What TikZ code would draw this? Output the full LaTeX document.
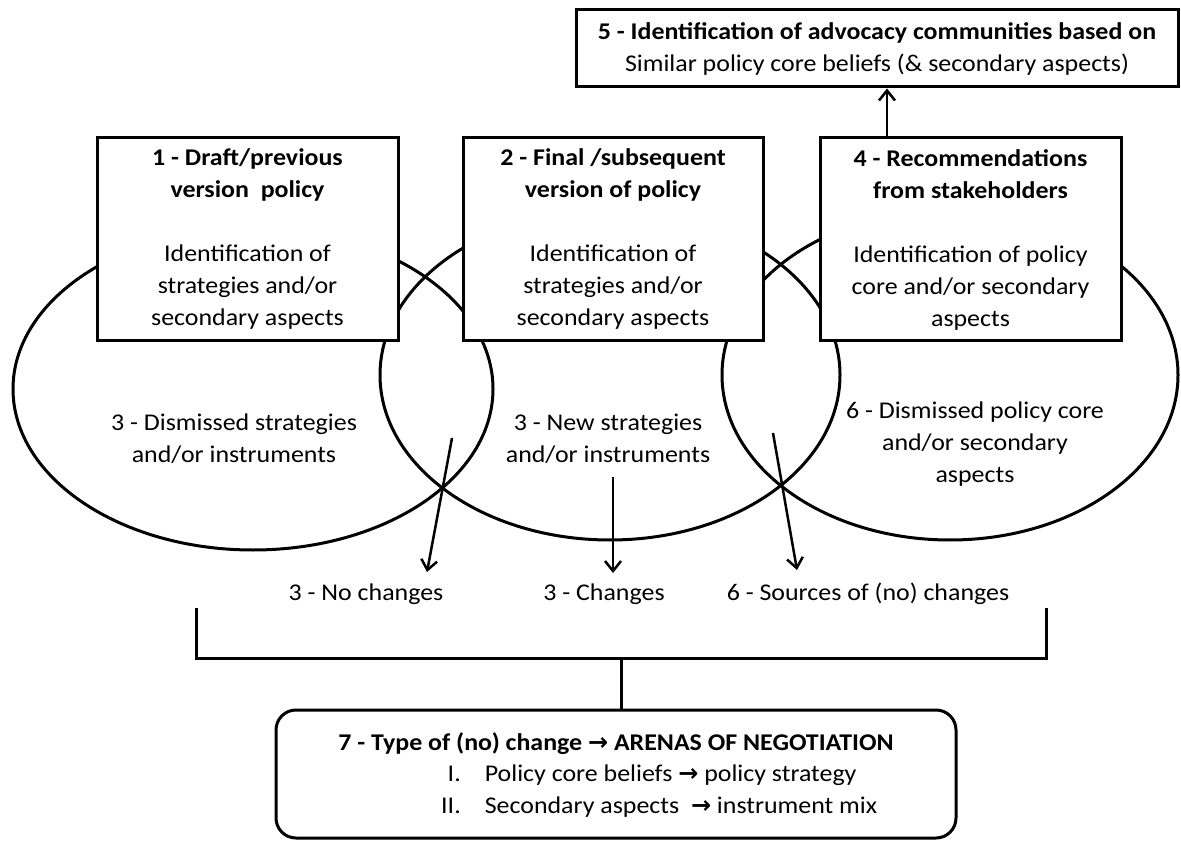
\documentclass[tikz,border=0pt]{standalone}
\usepackage{fontspec}
\setmainfont{Carlito}[FakeStretch=1.08]
\newfontfamily\arrowfont{DejaVu Sans}
\usetikzlibrary{arrows.meta,calc}
\begin{document}
\begin{tikzpicture}[x=1pt,y=-1pt,
  every node/.style={font=\fontsize{24}{32}\selectfont, inner sep=0pt},
  box/.style={draw, line width=3pt, fill=white, align=center},
  lbl/.style={align=center},
  arr/.style={line width=2.5pt, -{Straight Barb[length=10pt,width=16pt]}},
  ln/.style={line width=3pt}]
\useasboundingbox (0,0) rectangle (1181,842);
\fill[white] (0,0) rectangle (1181,842);
% ellipses
\draw[ln] (253,389) ellipse [x radius=240pt, y radius=161pt];
\draw[ln] (610,375) ellipse [x radius=230pt, y radius=165pt];
\draw[ln] (950,375) ellipse [x radius=228pt, y radius=165pt];
% boxes
\node[box, minimum width=301pt, minimum height=203pt] (b1) at (247.5,239.5)
  {\textbf{1 - Draft/previous}\\ \textbf{version\ \ policy}\\[32pt] Identification of\\ strategies and/or\\ secondary aspects};
\node[box, minimum width=300pt, minimum height=203pt] (b2) at (613,239.5)
  {\textbf{2 - Final /subsequent}\\ \textbf{version of policy}\\[32pt] Identification of\\ strategies and/or\\ secondary aspects};
\node[box, minimum width=301pt, minimum height=203pt] (b4) at (970.5,239.5)
  {\textbf{4 - Recommendations}\\ \textbf{from stakeholders}\\[32pt] Identification of policy\\ core and/or secondary\\ aspects};
\node[box, minimum width=602pt, minimum height=77pt] (b5) at (877,48.5)
  {\textbf{5 - Identification of advocacy communities based on}\\ Similar policy core beliefs (\& secondary aspects)};
\coordinate (x887) at (887,0);
\draw[arr] (x887 |- b4.north) -- (x887 |- b5.south);
% ellipse texts (anchor base = baseline of last line)
\node[lbl, anchor=base] (t3a) at (234,462) {3 - Dismissed strategies\\ and/or instruments};
\node[lbl, anchor=base] (t3b) at (608,462) {3 - New strategies\\ and/or instruments};
\node[lbl, anchor=base] (t6a) at (975,482) {6 - Dismissed policy core\\ and/or secondary\\ aspects};
% outcome labels
\node[anchor=base] (nc) at (366,600) {3 - No changes};
\node[anchor=base] (ch) at (604,600) {3 - Changes};
\node[anchor=base] (sc) at (868,600) {6 - Sources of (no) changes};
% arrows
\coordinate (a1s) at (452,438); \coordinate (a1e) at (427,572);
\coordinate (a2s) at (613,477); \coordinate (a2e) at (613,573);
\coordinate (a3s) at (773,433); \coordinate (a3e) at (797,570);
\draw[arr] (a1s) -- (a1e);
\draw[arr] (a2s) -- (a2e);
\draw[arr] (a3s) -- (a3e);
% bracket
\coordinate (bl) at (196,608); \coordinate (br) at (1046,608);
\coordinate (bm) at (621,658);
\draw[ln] (bl) -- (bl |- bm) -- (br |- bm) -- (br);
% box 7
\node[draw, line width=3pt, rounded corners=20pt, minimum width=680pt, minimum height=128pt] (b7) at (616,774) {};
\draw[ln] (bm) -- (bm |- b7.north);
\node[anchor=base] (t7) at (616,750) {\textbf{7 - Type of (no) change {\arrowfont\bfseries →} ARENAS OF NEGOTIATION}};
\node[anchor=base west] (l7) at (441,781) {\begin{tabular}[t]{@{}r@{\hspace{24pt}}l@{}}
I. & Policy core beliefs {\arrowfont\bfseries →} policy strategy\\
II. & Secondary aspects\ \ {\arrowfont\bfseries →} instrument mix
\end{tabular}};
\end{tikzpicture}
\end{document}
